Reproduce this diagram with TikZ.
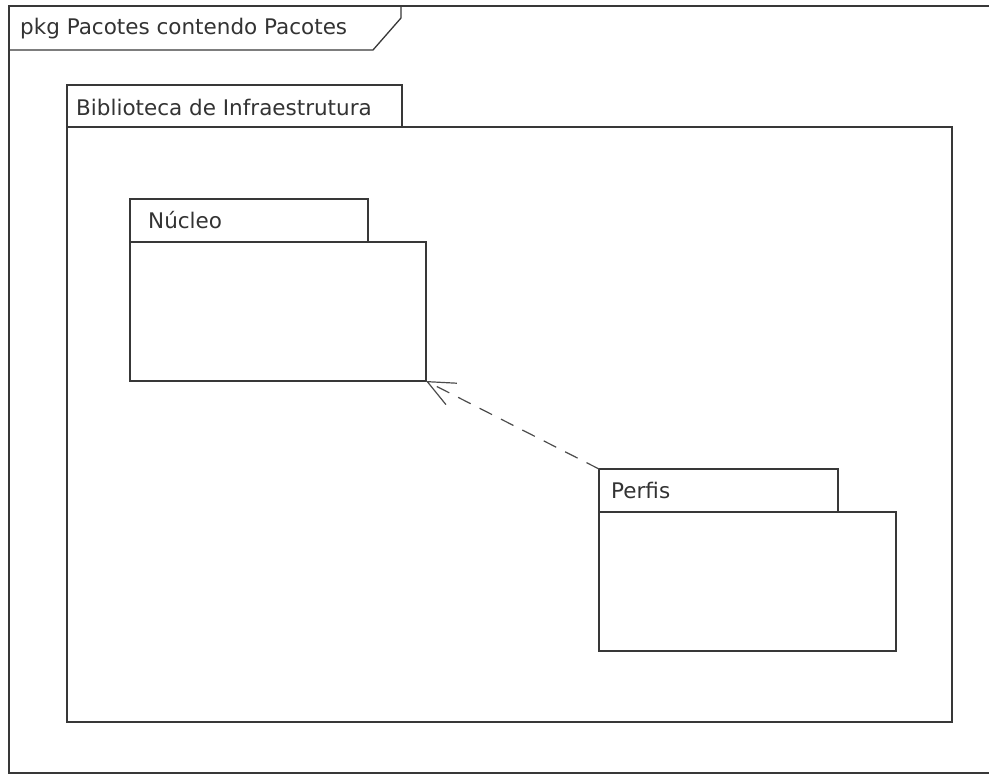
\documentclass[tikz,border=0pt]{standalone}
\usepackage{fontspec}
\setmainfont{DejaVu Sans}
\usetikzlibrary{arrows.meta}
\begin{document}
\begin{tikzpicture}[x=1pt,y=-1pt,
  ln/.style={draw=black!78, line width=1.3pt},
  pkbox/.style={ln, anchor=north west, inner sep=0pt, outer sep=0pt, fill=white},
  lbl/.style={anchor=west, inner sep=0pt, font=\fontsize{21.5}{25}\selectfont, text=black!80},
  dep/.style={draw=black!70, line width=1.2pt, dash pattern=on 14pt off 10pt,
    -{Straight Barb[length=27pt,width=24pt,line width=1.2pt]}}]
\useasboundingbox (0,0) rectangle (989,775);
\fill[white] (0,0) rectangle (989,775);
% outer frame
\node[pkbox, minimum width=1000pt, minimum height=767pt] (frame) at (9,6) {};
\draw[ln] (9,50) -- (373,50) -- (401,18) -- (401,6);
\node[lbl] (framelbl) at (20,29) {pkg Pacotes contendo Pacotes};
% Biblioteca de Infraestrutura
\node[pkbox, minimum width=335pt, minimum height=42pt] (bibtab) at (67,85) {};
\node[pkbox, minimum width=885pt, minimum height=595pt] (bibbody) at (67,127) {};
\node[lbl] (biblbl) at (76,107) {Biblioteca de Infraestrutura};
% Nucleo
\node[pkbox, minimum width=238pt, minimum height=43pt] (nuctab) at (130,199) {};
\node[pkbox, minimum width=296pt, minimum height=139pt] (nucbody) at (130,242) {};
\node[lbl] (nuclbl) at (148,220) {Núcleo};
% Perfis
\node[pkbox, minimum width=239pt, minimum height=43pt] (pertab) at (599,469) {};
\node[pkbox, minimum width=297pt, minimum height=139pt] (perbody) at (599,512) {};
\node[lbl] (perlbl) at (611,490) {Perfis};
% dependency
\draw[dep] (pertab.north west) -- (nucbody.south east);
\end{tikzpicture}
\end{document}
